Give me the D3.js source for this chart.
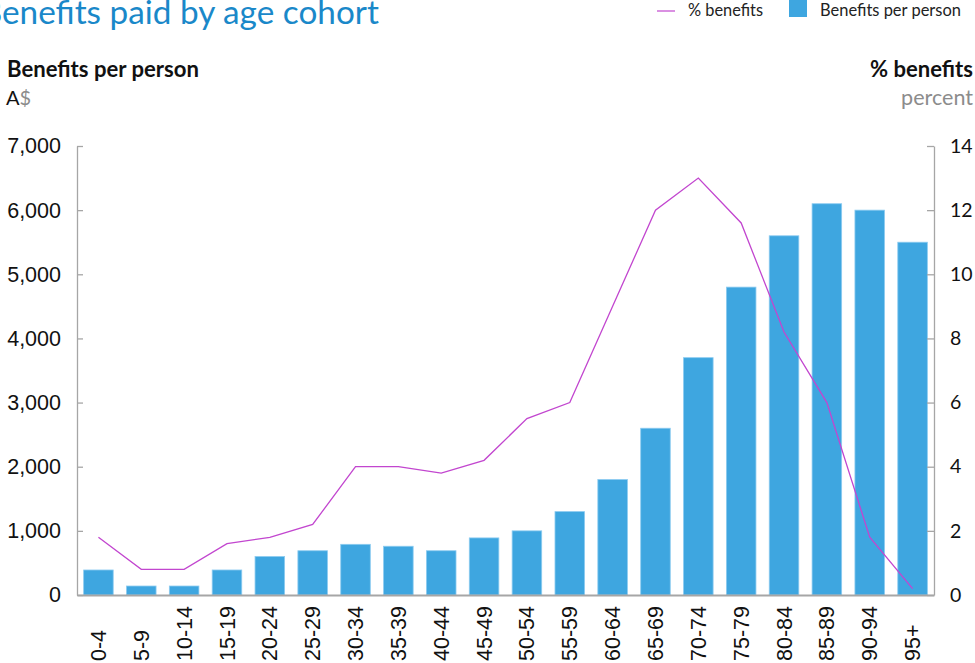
<!DOCTYPE html>
<html><head><meta charset="utf-8">
<script src="https://cdn.jsdelivr.net/npm/d3@7"></script>
<style>body{margin:0;background:#fff;overflow:hidden}svg{display:block}</style>
</head><body>
<svg id="c" width="975" height="663"></svg>
<script>
const categories = ["0-4","5-9","10-14","15-19","20-24","25-29","30-34","35-39","40-44","45-49","50-54","55-59","60-64","65-69","70-74","75-79","80-84","85-89","90-94","95+"];
const benefitsPerPerson = [390,140,140,390,600,690,790,760,690,890,1000,1300,1800,2600,3700,4800,5600,6100,6000,5500];
const pctBenefits = [1.8,0.8,0.8,1.6,1.8,2.2,4.0,4.0,3.8,4.2,5.5,6.0,9.0,12.0,13.0,11.6,8.2,6.0,1.8,0.2];
const leftTicks = [0,1000,2000,3000,4000,5000,6000,7000];
const rightTicks = [0,2,4,6,8,10,12,14];

const svg = d3.select("#c");
const M = {left:77, right:934, top:146, bottom:595};
const barColor = "#3ea6e0", lineColor = "#c246cf", axisColor = "#a6a6a6";
const head = "Lato, 'Open Sans', sans-serif";
const tickFont = "'Liberation Sans', Arial, sans-serif";

const x = d3.scaleBand().domain(categories).range([M.left, M.right]).paddingInner(0.31).paddingOuter(0.155);
const yL = d3.scaleLinear().domain([0,7000]).range([M.bottom, M.top]);
const yR = d3.scaleLinear().domain([0,14]).range([M.bottom, M.top]);

function fitText(sel, width){
  const w = sel.node().getComputedTextLength();
  const fs = parseFloat(sel.attr("font-size"));
  sel.attr("font-size", fs*width/w);
}

// Title (left part cut off, as in the source)
const title = svg.append("text").attr("y",24).attr("font-family",head).attr("font-size",32)
  .attr("fill","#1a88c9").text("Benefits paid by age cohort");
{
  const n = title.node();
  const full = n.getComputedTextLength();
  const rest = full - n.getSubStringLength(0,1);
  const fs = 32*377/rest;
  title.attr("font-size", fs);
  const bw = n.getSubStringLength(0,1);
  title.attr("x", 2 - bw);
}

// Legend
svg.append("line").attr("x1",657).attr("x2",675).attr("y1",11).attr("y2",11).attr("stroke",lineColor).attr("stroke-width",1.2);
fitText(svg.append("text").attr("x",688).attr("y",16).attr("font-family",head).attr("font-size",14).attr("fill","#222").text("% benefits"),75);
svg.append("rect").attr("x",789).attr("y",0).attr("width",18).attr("height",17).attr("fill",barColor);
fitText(svg.append("text").attr("x",820).attr("y",16).attr("font-family",head).attr("font-size",14).attr("fill","#222").text("Benefits per person"),141);

// Axis headings
fitText(svg.append("text").attr("x",7).attr("y",77).attr("font-family",head).attr("font-weight","bold").attr("font-size",19).attr("fill","#111").text("Benefits per person"),192);
const ad = svg.append("text").attr("x",6).attr("y",105).attr("font-family",head).attr("font-size",20);
ad.append("tspan").attr("fill","#111").text("A");
ad.append("tspan").attr("fill","#8c8c8c").text("$");
const rh = svg.append("text").attr("x",973).attr("y",77).attr("text-anchor","end").attr("font-family",head).attr("font-weight","bold").attr("font-size",19).attr("fill","#111").text("% benefits");
fitText(rh,103);
const rp = svg.append("text").attr("x",973).attr("y",105).attr("text-anchor","end").attr("font-family",head).attr("font-size",20).attr("fill","#8c8c8c").text("percent");
fitText(rp,72);

// Bars
svg.append("g").selectAll("rect").data(categories).join("rect")
  .attr("x", d=>x(d)).attr("width", x.bandwidth())
  .attr("y", (d,i)=>yL(benefitsPerPerson[i])).attr("height",(d,i)=>yL(0)-yL(benefitsPerPerson[i]))
  .attr("fill", barColor).attr("stroke","#8ccbf0").attr("stroke-width",0.8);

// Line
const line = d3.line().x((d,i)=>x(categories[i])+x.bandwidth()/2).y(d=>yR(d));
svg.append("path").datum(pctBenefits).attr("d",line).attr("fill","none").attr("stroke",lineColor).attr("stroke-width",1.3);

// Left axis
const gL = svg.append("g").attr("transform",`translate(${M.left},0)`)
  .call(d3.axisLeft(yL).tickValues(leftTicks).tickFormat(d3.format(",")).tickSizeInner(-6).tickSizeOuter(0).tickPadding(16));
gL.select(".domain").attr("stroke",axisColor).attr("stroke-width",1.3);
gL.selectAll(".tick line").attr("stroke",axisColor).attr("stroke-width",1.3);
gL.selectAll(".tick text").attr("font-family",tickFont).attr("font-size",21.5).attr("fill","#111");

// Right axis
const gR = svg.append("g").attr("transform",`translate(${M.right},0)`)
  .call(d3.axisRight(yR).tickValues(rightTicks).tickSizeInner(-7).tickSizeOuter(0).tickPadding(16));
gR.select(".domain").attr("stroke",axisColor).attr("stroke-width",1.3);
gR.selectAll(".tick line").attr("stroke",axisColor).attr("stroke-width",1.3);
gR.selectAll(".tick text").attr("font-family",head).attr("font-size",19.5).attr("fill","#111");

// Bottom axis
const gB = svg.append("g").attr("transform",`translate(0,${M.bottom})`)
  .call(d3.axisBottom(x).tickSize(0).tickPadding(0));
gB.select(".domain").attr("stroke",axisColor).attr("stroke-width",2.2);
gB.selectAll(".tick text")
  .attr("font-family",tickFont).attr("font-size",21.5).attr("fill","#111")
  .attr("text-anchor","start").attr("dy","0.35em").attr("y",0)
  .attr("transform","translate(0,66) rotate(-90)");
</script>
</body></html>
